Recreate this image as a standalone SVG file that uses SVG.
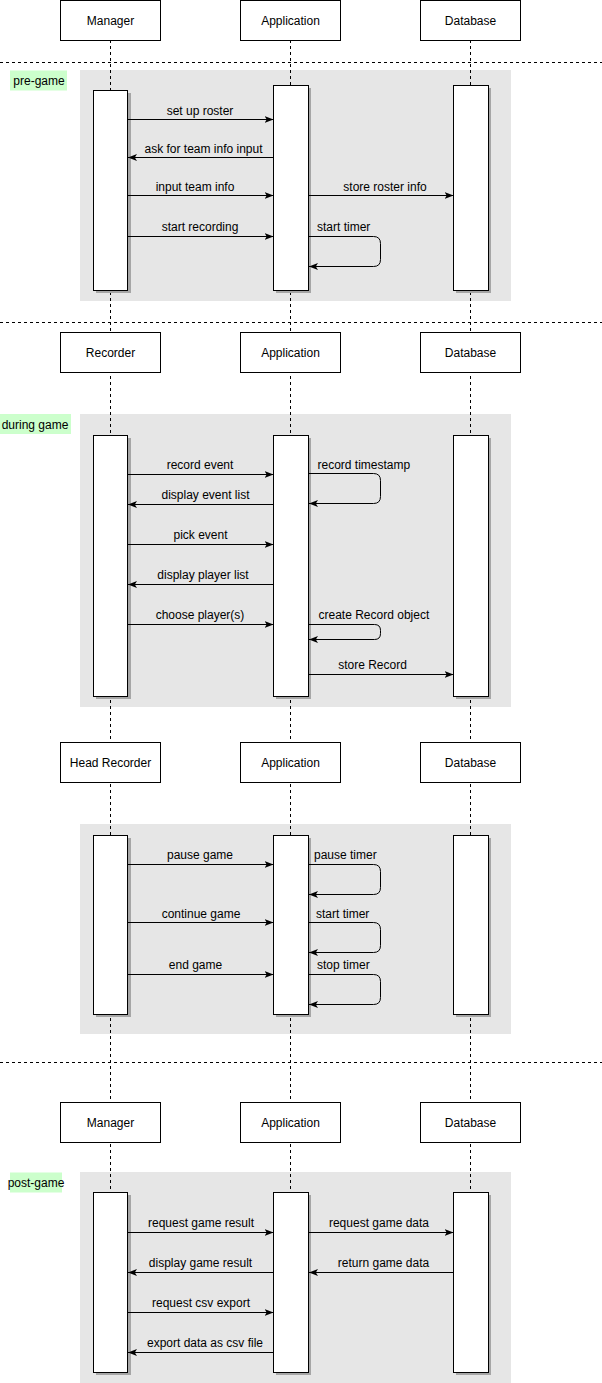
<svg xmlns="http://www.w3.org/2000/svg" width="602" height="1383" viewBox="0 0 602 1383">
<defs>
<style>
text{font-family:"Liberation Sans",Arial,Helvetica,sans-serif;font-size:12px;fill:#000}
.c{text-anchor:middle}
.s{text-anchor:start}
.frame{fill:#e6e6e6;stroke:none}
.tag{fill:#ccffcc;stroke:none}
.head{fill:#fff;stroke:#000;stroke-width:1}
.act{fill:#fff;stroke:#000;stroke-width:1}
.shd{fill:#a6a6a6;stroke:none}
.life{stroke:#000;stroke-width:1;stroke-dasharray:3 3;fill:none}
.sep{stroke:#000;stroke-width:1;stroke-dasharray:3 3;fill:none}
.msg{stroke:#000;stroke-width:1;fill:none;marker-end:url(#arr)}
</style>
<marker id="arr" markerUnits="userSpaceOnUse" viewBox="0 0 9 8" refX="9" refY="4" markerWidth="9" markerHeight="8" orient="auto">
<path d="M0,0.5 L9,4 L0,7.5 L2.2,4 Z" fill="#000"/>
</marker>
</defs>
<rect width="602" height="1383" fill="#fff"/>

<g id="frames">
<rect class="frame" x="80" y="70" width="431" height="231"/>
<rect class="frame" x="80" y="414" width="431" height="293"/>
<rect class="frame" x="80" y="824" width="431" height="210"/>
<rect class="frame" x="80" y="1172" width="431" height="211"/>
</g>

<g id="separators">
<line class="sep" x1="0" y1="62.5" x2="602" y2="62.5"/>
<line class="sep" x1="0" y1="322.5" x2="602" y2="322.5"/>
<line class="sep" x1="0" y1="1062.5" x2="602" y2="1062.5"/>
</g>

<g id="tags">
<g id="tag-pregame"><rect class="tag" x="10" y="70.5" width="57" height="20"/><text class="c" x="39" y="85">pre-game</text></g>
<g id="tag-duringgame"><rect class="tag" x="0" y="414" width="71" height="20"/><text class="c" x="35" y="428.5">during game</text></g>
<g id="tag-postgame"><rect class="tag" x="10" y="1172.5" width="52" height="20"/><text class="c" x="36" y="1187">post-game</text></g>
</g>

<g id="lifelines">
<line class="life" x1="110.5" y1="40" x2="110.5" y2="1372"/>
<line class="life" x1="290.5" y1="40" x2="290.5" y2="1372"/>
<line class="life" x1="470.5" y1="40" x2="470.5" y2="1372"/>
</g>

<g id="header-1">
<g id="manager-1"><rect class="head" x="60.5" y="0.5" width="100" height="40"/><text class="c" x="110.5" y="24.5">Manager</text></g>
<g id="application-1"><rect class="head" x="240.5" y="0.5" width="100" height="40"/><text class="c" x="290.5" y="24.5">Application</text></g>
<g id="database-1"><rect class="head" x="420.5" y="0.5" width="100" height="40"/><text class="c" x="470.5" y="24.5">Database</text></g>
</g>
<g id="header-2">
<g id="recorder"><rect class="head" x="60.5" y="332.5" width="100" height="40"/><text class="c" x="110.5" y="356.5">Recorder</text></g>
<g id="application-2"><rect class="head" x="240.5" y="332.5" width="100" height="40"/><text class="c" x="290.5" y="356.5">Application</text></g>
<g id="database-2"><rect class="head" x="420.5" y="332.5" width="100" height="40"/><text class="c" x="470.5" y="356.5">Database</text></g>
</g>
<g id="header-3">
<g id="head-recorder"><rect class="head" x="60.5" y="742.5" width="100" height="40"/><text class="c" x="110.5" y="766.5">Head Recorder</text></g>
<g id="application-3"><rect class="head" x="240.5" y="742.5" width="100" height="40"/><text class="c" x="290.5" y="766.5">Application</text></g>
<g id="database-3"><rect class="head" x="420.5" y="742.5" width="100" height="40"/><text class="c" x="470.5" y="766.5">Database</text></g>
</g>
<g id="header-4">
<g id="manager-4"><rect class="head" x="60.5" y="1102.5" width="100" height="40"/><text class="c" x="110.5" y="1126.5">Manager</text></g>
<g id="application-4"><rect class="head" x="240.5" y="1102.5" width="100" height="40"/><text class="c" x="290.5" y="1126.5">Application</text></g>
<g id="database-4"><rect class="head" x="420.5" y="1102.5" width="100" height="40"/><text class="c" x="470.5" y="1126.5">Database</text></g>
</g>

<g id="activations">
<g id="act-manager-1"><rect class="shd" x="96" y="93" width="35" height="200"/><rect class="act" x="93.5" y="90.5" width="34" height="200"/></g>
<g id="act-app-1"><rect class="shd" x="276" y="88" width="35" height="205"/><rect class="act" x="273.5" y="85.5" width="35" height="205"/></g>
<g id="act-db-1"><rect class="shd" x="456" y="88" width="35" height="205"/><rect class="act" x="453.5" y="85.5" width="35" height="205"/></g>

<g id="act-recorder"><rect class="shd" x="96" y="438" width="35" height="261"/><rect class="act" x="93.5" y="435.5" width="34" height="261"/></g>
<g id="act-app-2"><rect class="shd" x="276" y="438" width="35" height="261"/><rect class="act" x="273.5" y="435.5" width="35" height="261"/></g>
<g id="act-db-2"><rect class="shd" x="456" y="438" width="35" height="261"/><rect class="act" x="453.5" y="435.5" width="35" height="261"/></g>

<g id="act-headrec"><rect class="shd" x="96" y="838" width="35" height="179"/><rect class="act" x="93.5" y="835.5" width="34" height="179"/></g>
<g id="act-app-3"><rect class="shd" x="276" y="838" width="35" height="179"/><rect class="act" x="273.5" y="835.5" width="35" height="179"/></g>
<g id="act-db-3"><rect class="shd" x="456" y="838" width="35" height="179"/><rect class="act" x="453.5" y="835.5" width="35" height="179"/></g>

<g id="act-manager-4"><rect class="shd" x="96" y="1195" width="35" height="180"/><rect class="act" x="93.5" y="1192.5" width="34" height="180"/></g>
<g id="act-app-4"><rect class="shd" x="276" y="1195" width="35" height="180"/><rect class="act" x="273.5" y="1192.5" width="35" height="180"/></g>
<g id="act-db-4"><rect class="shd" x="456" y="1195" width="35" height="180"/><rect class="act" x="453.5" y="1192.5" width="35" height="180"/></g>
</g>

<g id="connectors">
<path class="msg" d="M128,119.5 H273.5"/>
<path class="msg" d="M273.5,157.5 H128"/>
<path class="msg" d="M128,195.5 H273.5"/>
<path class="msg" d="M308.5,195.5 H453.5"/>
<path class="msg" d="M128,236.5 H273.5"/>
<path class="msg" d="M308.5,236.5 H373.5 Q380.5,236.5 380.5,243.5 V259.5 Q380.5,266.5 373.5,266.5 H309"/>

<path class="msg" d="M128,474.5 H273.5"/>
<path class="msg" d="M308.5,473.5 H373.5 Q380.5,473.5 380.5,480.5 V496.5 Q380.5,503.5 373.5,503.5 H309"/>
<path class="msg" d="M273.5,504.5 H128"/>
<path class="msg" d="M128,544.5 H273.5"/>
<path class="msg" d="M273.5,584.5 H128"/>
<path class="msg" d="M128,624.5 H273.5"/>
<path class="msg" d="M308.5,624.5 H374.5 Q380.5,624.5 380.5,630.5 V633.5 Q380.5,639.5 374.5,639.5 H309"/>
<path class="msg" d="M308.5,674.5 H453.5"/>

<path class="msg" d="M128,864.5 H273.5"/>
<path class="msg" d="M308.5,864.5 H373.5 Q380.5,864.5 380.5,871.5 V887.5 Q380.5,894.5 373.5,894.5 H309"/>
<path class="msg" d="M128,922.5 H273.5"/>
<path class="msg" d="M308.5,922.5 H373.5 Q380.5,922.5 380.5,929.5 V945.5 Q380.5,952.5 373.5,952.5 H309"/>
<path class="msg" d="M128,974.5 H273.5"/>
<path class="msg" d="M308.5,974.5 H373.5 Q380.5,974.5 380.5,981.5 V997.5 Q380.5,1004.5 373.5,1004.5 H309"/>

<path class="msg" d="M128,1232.5 H273.5"/>
<path class="msg" d="M308.5,1232.5 H453.5"/>
<path class="msg" d="M273.5,1272.5 H128"/>
<path class="msg" d="M453.5,1272.5 H309"/>
<path class="msg" d="M128,1312.5 H273.5"/>
<path class="msg" d="M273.5,1352.5 H128"/>
</g>

<g id="labels">
<text class="c" x="200" y="114.5">set up roster</text>
<text class="c" x="203.5" y="152.5">ask for team info input</text>
<text class="c" x="195" y="190.5">input team info</text>
<text class="c" x="385" y="190.5">store roster info</text>
<text class="c" x="200" y="231">start recording</text>
<text class="s" x="317" y="231">start timer</text>

<text class="c" x="200" y="469">record event</text>
<text class="s" x="317.5" y="468.5">record timestamp</text>
<text class="c" x="205.5" y="499">display event list</text>
<text class="c" x="200.5" y="539">pick event</text>
<text class="c" x="203" y="579">display player list</text>
<text class="c" x="200" y="619">choose player(s)</text>
<text class="s" x="318.5" y="619">create Record object</text>
<text class="c" x="372.5" y="669">store Record</text>

<text class="c" x="200" y="859">pause game</text>
<text class="s" x="314" y="859">pause timer</text>
<text class="c" x="201" y="917.5">continue game</text>
<text class="s" x="316" y="917.5">start timer</text>
<text class="c" x="195.5" y="969">end game</text>
<text class="s" x="317" y="969">stop timer</text>

<text class="c" x="201" y="1227">request game result</text>
<text class="c" x="379" y="1227">request game data</text>
<text class="c" x="200.5" y="1267">display game result</text>
<text class="c" x="383.5" y="1267">return game data</text>
<text class="c" x="201" y="1307">request csv export</text>
<text class="c" x="205" y="1347">export data as csv file</text>
</g>
</svg>
